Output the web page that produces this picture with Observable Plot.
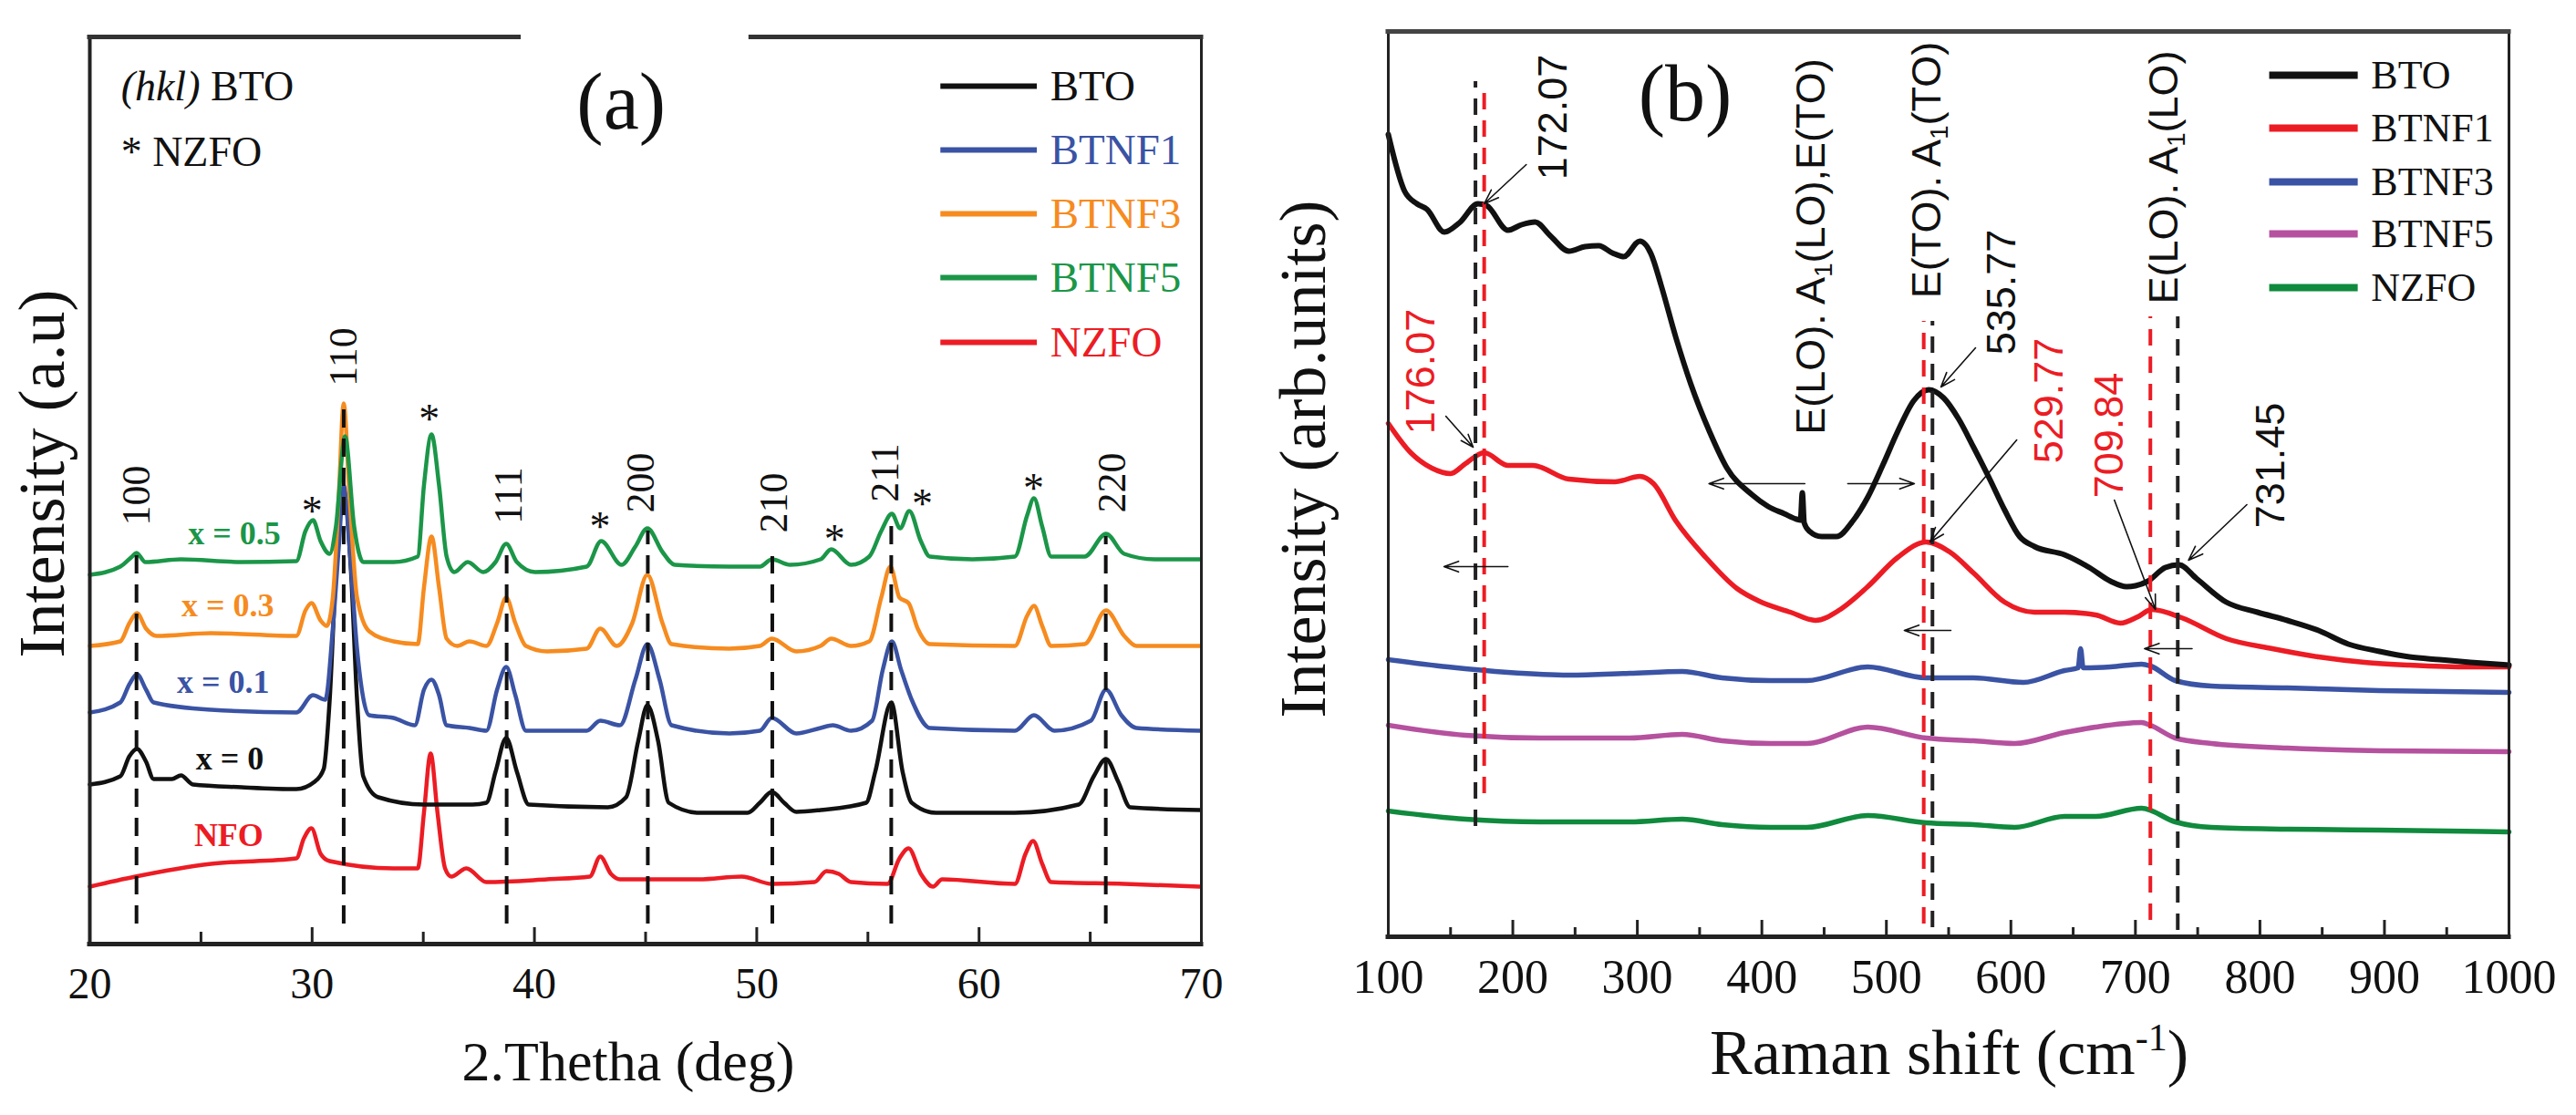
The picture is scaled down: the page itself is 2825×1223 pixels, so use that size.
<!DOCTYPE html>
<html><head><meta charset="utf-8">
<script src="https://cdn.jsdelivr.net/npm/d3@7"></script>
<script src="https://cdn.jsdelivr.net/npm/@observablehq/plot@0.6"></script>
<style>
body{margin:0;background:#fff;}
#wrap{position:relative;width:2825px;height:1223px;overflow:hidden;background:#fff;}
#pa{position:absolute;left:0;top:0;}
#pb{position:absolute;left:1370px;top:0;}
</style></head><body><div id="wrap"><div id="pa"></div><div id="pb"></div></div>
<script>
// ---------------- Panel (a): XRD, 2θ vs intensity (arbitrary, stacked) ----------------
const xrdBTO = [[20,175],[21.37,184],[21.78,206],[22.12,214],[22.53,200],[22.87,181],[23.69,181],[24.1,185],[24.64,175],[26.83,172],[29.29,170],[30.11,178],[30.52,192],[30.79,268],[31.07,408],[31.42,498],[31.75,408],[32.02,268],[32.3,184],[32.98,161],[35.03,153],[37.21,153],[37.84,155],[38.25,189],[38.73,226],[39.21,189],[39.75,153],[43.3,150],[44.12,161],[44.67,223],[45.08,262],[45.56,223],[46.04,155],[47.4,144],[49.59,144],[50.14,155],[50.68,167],[51.23,155],[51.78,145],[52.87,147],[54.92,155],[55.33,189],[56.05,265],[56.56,189],[56.97,155],[58.06,144],[61.61,144],[64.48,153],[65.16,184],[65.71,203],[66.26,178],[66.8,150],[69.95,147]];
const xrdBTNF1 = [[20,254],[21.37,265],[21.78,285],[22.12,296],[22.53,279],[22.87,265],[25.46,257],[29.29,254],[30.04,273],[30.59,268],[30.93,346],[31.2,436],[31.42,503],[31.68,436],[32.02,324],[32.57,251],[33.66,248],[34.62,240],[35.03,279],[35.37,290],[35.71,273],[36.05,240],[37.08,237],[37.84,234],[38.32,279],[38.73,304],[39.14,273],[39.62,234],[42.35,234],[42.96,245],[43.85,240],[44.54,290],[45.08,329],[45.63,290],[46.17,240],[48.77,231],[50.14,234],[50.68,248],[51.78,231],[52.87,237],[53.42,240],[54.24,234],[55.19,245],[55.67,301],[56.08,332],[56.49,301],[56.97,268],[57.79,237],[61.61,234],[62.47,251],[63.39,234],[65.03,245],[65.71,279],[66.4,251],[67.08,237],[69.95,234]];
const xrdBTNF3 = [[20,327],[21.37,332],[21.78,352],[22.12,363],[22.53,346],[23.0,338],[25.46,341],[29.29,338],[29.7,366],[29.97,374],[30.38,355],[30.66,349],[30.93,380],[31.2,492],[31.42,593],[31.68,492],[32.02,380],[32.57,343],[33.66,332],[34.75,329],[35.03,391],[35.37,447],[35.71,391],[36.05,335],[36.53,327],[37.08,332],[37.84,327],[38.32,352],[38.73,380],[39.14,352],[39.62,327],[40.57,321],[42.35,324],[42.96,346],[43.7,327],[44.4,352],[45.08,405],[45.76,352],[46.17,329],[48.77,324],[50.14,327],[50.68,335],[51.78,321],[52.87,327],[53.35,335],[54.24,327],[55.06,332],[55.6,380],[56.01,414],[56.42,380],[56.83,374],[57.24,346],[57.79,329],[61.61,327],[62.16,360],[62.47,371],[62.84,349],[63.25,327],[64.75,329],[65.71,366],[66.53,338],[67.08,327],[69.95,327]];
const xrdBTNF5 = [[20,405],[21.37,414],[21.9,425],[22.1,429],[22.5,419],[24.1,422],[26.83,419],[29.29,420],[29.7,453],[30.04,465],[30.38,442],[30.79,428],[31.07,458],[31.48,557],[31.89,458],[32.3,419],[33.66,419],[34.75,425],[35.03,503],[35.37,559],[35.71,503],[36.05,425],[36.39,408],[37.0,419],[37.7,408],[38.25,419],[38.73,439],[39.21,419],[40.03,408],[42.35,414],[43.0,442],[43.92,416],[44.54,436],[45.08,456],[45.76,430],[46.31,416],[48.77,414],[50.14,414],[50.68,422],[51.5,416],[52.87,422],[53.35,433],[54.24,416],[55.06,425],[55.6,453],[56.08,472],[56.45,456],[56.86,475],[57.38,442],[57.79,425],[59.7,422],[61.61,425],[62.16,470],[62.47,489],[62.84,458],[63.25,425],[64.75,425],[65.71,450],[66.53,428],[67.9,422],[69.95,422]];
const xrdNZFO = [[20,63],[22.05,74],[25.46,88],[29.29,94],[29.63,116],[29.97,127],[30.38,99],[30.79,91],[33.66,83],[34.75,83],[35.03,144],[35.33,209],[35.64,144],[35.98,83],[36.26,74],[36.94,83],[37.84,68],[40.57,71],[42.49,74],[42.96,96],[43.44,77],[43.85,71],[47.4,71],[49.32,74],[50.68,66],[52.6,68],[53.14,80],[53.69,77],[54.24,68],[55.88,66],[56.42,94],[56.83,105],[57.38,77],[57.93,63],[58.34,71],[61.61,66],[62.09,99],[62.43,113],[62.84,88],[63.25,68],[66.53,66],[69.95,63]];

const seriesA = ["BTO", "BTNF1", "BTNF3", "BTNF5", "NZFO"];
const ticksA = [20, 25, 30, 35, 40, 45, 50, 55, 60, 65, 70];
const tickLabelsA = [20, 30, 40, 50, 60, 70];
const hklLabels = ["100", "110", "111", "200", "210", "211", "220"];
const hklTextX = [22.1, 31.4, 38.85, 44.8, 50.8, 55.8, 66.0];
const hklTextY = [492, 644, 492, 506, 484, 517, 506];
const hklLineX = [22.1, 31.42, 38.75, 45.1, 50.7, 56.05, 65.7];
const hklLineTop = [428, 590, 436, 453, 425, 464, 447];
const hklLineBottom = 22;
const starX = [30.0, 35.27, 42.95, 53.5, 57.45, 62.45];
const starY = [487, 588, 470, 456, 495, 512];
const sampleLabels = ["x = 0.5", "x = 0.3", "x = 0.1", "x = 0", "NFO"];
const sampleX = [26.5, 26.2, 26.0, 26.3, 26.25];
const sampleY = [450, 371, 287, 203, 119];
const sampleSeries = ["BTNF5", "BTNF3", "BTNF1", "BTO", "NZFO"];
const legendAY = [941, 871, 801, 731, 660];

// ---------------- Panel (b): Raman ----------------
const ramanBTO = [[100,880],[113,818],[123,804],[131,798],[145,773],[157,783],[172,804],[179,802],[196,775],[207,781],[218,784],[230,769],[245,752],[258,757],[269,758],[280,750],[289,746],[302,763],[311,749],[319,715],[331,657],[343,606],[358,554],[372,514],[392,485],[405,472],[418,464],[428,458],[431,457],[432.5,487],[434,454],[438,445],[448,439],[460,439],[473,456],[485,482],[497,517],[509,554],[522,588],[534,600],[546,591],[558,568],[570,537],[583,502],[595,468],[607,439],[619,428],[643,419],[663,405],[680,390],[693,384],[700,385],[710,390],[724,405],[735,408],[749,393],[773,367],[798,356],[822,347],[847,336],[871,321],[896,313],[920,307],[944,304],[969,301],[1000,298]];
const ramanBTNF1 = [[100,563],[118,531],[135,514],[150,508],[162,519],[177,531],[196,517],[216,517],[245,502],[282,499],[302,505],[313,497],[331,456],[355,416],[380,382],[398,368],[423,356],[443,347],[463,359],[485,384],[509,416],[532,433],[551,422],[570,399],[595,367],[619,356],[643,356],[668,353],[688,344],[702,351],[713,359],[737,350],[773,327],[810,316],[847,307],[884,301],[920,298],[969,296],[1000,296]];
const ramanBTNF3 = [[100,304],[148,296],[196,290],[245,287],[294,289],[336,291],[368,284],[407,281],[436,281],[485,296],[532,284],[570,284],[610,279],[643,292],[654,295],[656,316],[658,295],[680,296],[705,299],[712,297],[732,281],[761,275],[822,273],[896,270],[1000,268]];
const ramanBTNF5 = [[100,232],[162,221],[222,218],[294,218],[336,222],[368,215],[407,212],[436,212],[485,230],[532,218],[570,215],[603,212],[643,224],[668,230],[705,235],[712,232],[732,218],[761,212],[822,207],[896,204],[1000,203]];
const ramanNZFO = [[100,138],[162,129],[222,126],[294,126],[336,129],[368,123],[407,120],[436,120],[485,133],[532,125],[570,123],[603,120],[643,132],[668,132],[705,141],[732,126],[761,120],[822,118],[896,117],[1000,115]];

const seriesB = ["BTO", "BTNF1", "BTNF3", "BTNF5", "NZFO"];
const ticksB = [100,150,200,250,300,350,400,450,500,550,600,650,700,750,800,850,900,950,1000];
const tickLabelsB = [100,200,300,400,500,600,700,800,900,1000];
const modeX = [170, 177, 537, 530, 734, 712];
const modeTop = [938, 936, 675, 675, 680, 680];
const modeBottom = [121, 157, 10, 14, 7, 18];
const modeIsRed = [false, true, false, true, false, true];
const notes = ["172.07", "176.07", "E(LO). A1(LO),E(TO)", "E(TO). A1(TO)", "535.77", "529.77", "709.84", "E(LO). A1(LO)", "731.45"];
const noteX = [232.8, 126.4, 439.6, 532.8, 592.9, 631.1, 679.5, 723.5, 808.6];
const noteY = [899, 620, 757, 841, 707, 588, 550, 833, 517];
const noteIsRed = [false, true, false, false, false, true, true, false, false];
const arrowFrom = [[210.8,847],[146.2,571],[196.1,406],[434.5,497],[469,497],[571.6,646],[604.7,545],[683.1,479],[551.8,336],[745.5,316],[789.5,474]];
const arrowTo = [[177,804],[168.2,537],[144.7,406],[357.5,497],[522.5,497],[543.8,603],[535,433],[716.1,359],[514.4,336],[707.3,316],[742.6,413]];
const legendBY = [945, 887, 828, 771, 712];

// ---------------- styles ----------------
const colorA = {BTO: "#111111", BTNF1: "#3a53a4", BTNF3: "#f68b1f", BTNF5: "#1b9648", NZFO: "#ec1c24"};
const colorB = {BTO: "#111111", BTNF1: "#ec1c24", BTNF3: "#3a53a4", BTNF5: "#b5519e", NZFO: "#108a3d"};
const SERIF = "'Liberation Serif', 'Times New Roman', serif";
const SANS = "'Liberation Sans', Arial, sans-serif";
const xrdData = {BTO: xrdBTO, BTNF1: xrdBTNF1, BTNF3: xrdBTNF3, BTNF5: xrdBTNF5, NZFO: xrdNZFO};
const ramanData = {BTO: ramanBTO, BTNF1: ramanBTNF1, BTNF3: ramanBTNF3, BTNF5: ramanBTNF5, NZFO: ramanNZFO};

function pt(x, y, t) { return [{x, y, t}]; }
function txt(x, y, t, o) { return Plot.text(pt(x, y, t), {x: "x", y: "y", text: "t", fontFamily: SERIF, lineAnchor: "middle", ...o}); }

function richText(svg) {
  for (const t of svg.querySelectorAll("text")) {
    const s = t.textContent;
    if (s === "(hkl) BTO") {
      t.innerHTML = '<tspan font-style="italic">(hkl)</tspan> BTO';
    } else if (s.includes("A1")) {
      const i = s.indexOf("A1");
      t.innerHTML = s.slice(0, i) + 'A<tspan dy="8" font-size="28">1</tspan><tspan dy="-8">' + s.slice(i + 2) + '</tspan>';
    } else if (s === "Raman shift (cm-1)") {
      t.innerHTML = 'Raman shift (cm<tspan dy="-26" font-size="42">-1</tspan><tspan dy="26">)</tspan>';
    }
  }
}

// ---------------- build panel (a) ----------------
const marksA = [];
const drawOrderA = ["NZFO", "BTO", "BTNF1", "BTNF3", "BTNF5"];
for (const s of drawOrderA) {
  marksA.push(Plot.line(xrdData[s], {x: d => d[0], y: d => d[1], stroke: colorA[s], strokeWidth: 4.5, curve: "monotone-x", strokeLinejoin: "round"}));
}
marksA.push(Plot.ruleX(hklLineX, {x: d => d, y1: hklLineBottom, y2: (d, i) => hklLineTop[i], stroke: "#111", strokeWidth: 4, strokeDasharray: "20,12"}));
marksA.push(Plot.text(hklLabels, {x: (d, i) => hklTextX[i], y: (d, i) => hklTextY[i], text: d => d, rotate: -90, fontSize: 44, fontFamily: SERIF, fill: "#111", lineAnchor: "middle"}));
marksA.push(Plot.text(starX, {x: d => d, y: (d, i) => starY[i], text: () => "*", fontSize: 46, fontFamily: SERIF, fill: "#111", lineAnchor: "middle", dy: 13}));
sampleLabels.forEach((l, i) => marksA.push(txt(sampleX[i], sampleY[i], l, {fontSize: 36, fontWeight: "bold", fill: colorA[sampleSeries[i]]})));
seriesA.forEach((s, i) => {
  marksA.push(Plot.ruleY([legendAY[i]], {y: d => d, x1: 58.28, x2: 62.62, stroke: colorA[s], strokeWidth: 6}));
  marksA.push(txt(63.2, legendAY[i], s, {fontSize: 47, textAnchor: "start", fill: colorA[s]}));
});
marksA.push(txt(21.4, 940, "(hkl) BTO", {fontSize: 46, textAnchor: "start", fill: "#111"}));
marksA.push(txt(21.4, 868, "* NZFO", {fontSize: 46, textAnchor: "start", fill: "#111"}));
marksA.push(txt(43.9, 923, "(a)", {fontSize: 88, fill: "#111"}));
// frame (top edge interrupted behind the panel letter)
marksA.push(Plot.ruleX([20], {x: d => d, y1: 0, y2: 995, stroke: "#222", strokeWidth: 4, strokeLinecap: "square"}));
marksA.push(Plot.ruleX([70], {x: d => d, y1: 0, y2: 995, stroke: "#222", strokeWidth: 3}));
marksA.push(Plot.ruleY([0], {y: d => d, x1: 20, x2: 70, stroke: "#222", strokeWidth: 5, strokeLinecap: "square"}));
marksA.push(Plot.ruleY([995], {y: d => d, x1: 20, x2: 39.3, stroke: "#333", strokeWidth: 5, strokeLinecap: "square"}));
marksA.push(Plot.ruleY([995], {y: d => d, x1: 49.75, x2: 70, stroke: "#333", strokeWidth: 5, strokeLinecap: "square"}));
marksA.push(Plot.ruleX(ticksA, {x: d => d, y1: 0, y2: d => (d % 10 === 0 ? 18 : 13), stroke: "#222", strokeWidth: 3}));
marksA.push(Plot.text(tickLabelsA, {x: d => d, y: () => -44, text: d => String(d), fontSize: 48, fontFamily: SERIF, fill: "#111", lineAnchor: "middle"}));
marksA.push(txt(44.22, -130, "2.Thetha (deg)", {fontSize: 62, fill: "#111"}));
marksA.push(txt(17.87, 516, "Intensity (a.u)", {fontSize: 72, rotate: -90, fill: "#111"}));

const plotA = Plot.plot({
  width: 1370, height: 1223,
  marginLeft: 98, marginRight: 53, marginTop: 40, marginBottom: 188,
  x: {domain: [20, 70], axis: null},
  y: {domain: [0, 995], axis: null},
  style: {background: "transparent", overflow: "visible", fontFamily: SERIF},
  marks: marksA
});
richText(plotA);
document.getElementById("pa").appendChild(plotA);

// ---------------- build panel (b) ----------------
const marksB = [];
const drawOrderB = ["NZFO", "BTNF5", "BTNF3", "BTNF1", "BTO"];
for (const s of drawOrderB) {
  marksB.push(Plot.line(ramanData[s], {x: d => d[0], y: d => d[1], stroke: colorB[s], strokeWidth: s === "BTO" ? 6 : 5.5, curve: "monotone-x", strokeLinejoin: "round"}));
}
modeX.forEach((m, i) => marksB.push(Plot.ruleX([m], {x: d => d, y1: modeBottom[i], y2: modeTop[i], stroke: modeIsRed[i] ? "#ec1c24" : "#222", strokeWidth: 4, strokeDasharray: "18,12"})));
arrowFrom.forEach((f, i) => marksB.push(Plot.arrow([i], {x1: () => f[0], y1: () => f[1], x2: () => arrowTo[i][0], y2: () => arrowTo[i][1], stroke: "#111", strokeWidth: 1.6, headLength: 16, headAngle: 40})));
notes.forEach((n, i) => marksB.push(Plot.text(pt(noteX[i], noteY[i], n), {x: "x", y: "y", text: "t", rotate: -90, fontSize: 45, fontFamily: SANS, lineAnchor: "middle", fill: noteIsRed[i] ? "#ec1c24" : "#111"})));
seriesB.forEach((s, i) => {
  marksB.push(Plot.ruleY([legendBY[i]], {y: d => d, x1: 807.8, x2: 878.9, stroke: colorB[s], strokeWidth: 8}));
  marksB.push(txt(889.3, legendBY[i], s, {fontSize: 44, textAnchor: "start", fill: "#111"}));
});
marksB.push(txt(338.4, 924, "(b)", {fontSize: 88, fill: "#111"}));
marksB.push(Plot.ruleX([100], {x: d => d, y1: 0, y2: 993, stroke: "#222", strokeWidth: 3}));
marksB.push(Plot.ruleX([1000], {x: d => d, y1: 0, y2: 993, stroke: "#222", strokeWidth: 3}));
marksB.push(Plot.ruleY([0], {y: d => d, x1: 100, x2: 1000, stroke: "#222", strokeWidth: 5, strokeLinecap: "square"}));
marksB.push(Plot.ruleY([993], {y: d => d, x1: 100, x2: 1000, stroke: "#444", strokeWidth: 5, strokeLinecap: "square"}));
marksB.push(Plot.ruleX(ticksB, {x: d => d, y1: 0, y2: d => (d % 100 === 0 ? 18 : 10), stroke: "#222", strokeWidth: 3}));
marksB.push(Plot.text(tickLabelsB, {x: d => d, y: () => -45, text: d => String(d), fontSize: 52, fontFamily: SERIF, fill: "#111", lineAnchor: "middle"}));
marksB.push(txt(550.4, -128, "Raman shift (cm-1)", {fontSize: 70, fill: "#111"}));
marksB.push(txt(32.5, 524, "Intensity (arb.units)", {fontSize: 72, rotate: -90, fill: "#111"}));

const plotB = Plot.plot({
  width: 1455, height: 1223,
  marginLeft: 152, marginRight: 74, marginTop: 34, marginBottom: 196,
  x: {domain: [100, 1000], axis: null},
  y: {domain: [0, 993], axis: null},
  style: {background: "transparent", overflow: "visible", fontFamily: SERIF},
  marks: marksB
});
richText(plotB);
document.getElementById("pb").appendChild(plotB);
</script></body></html>
